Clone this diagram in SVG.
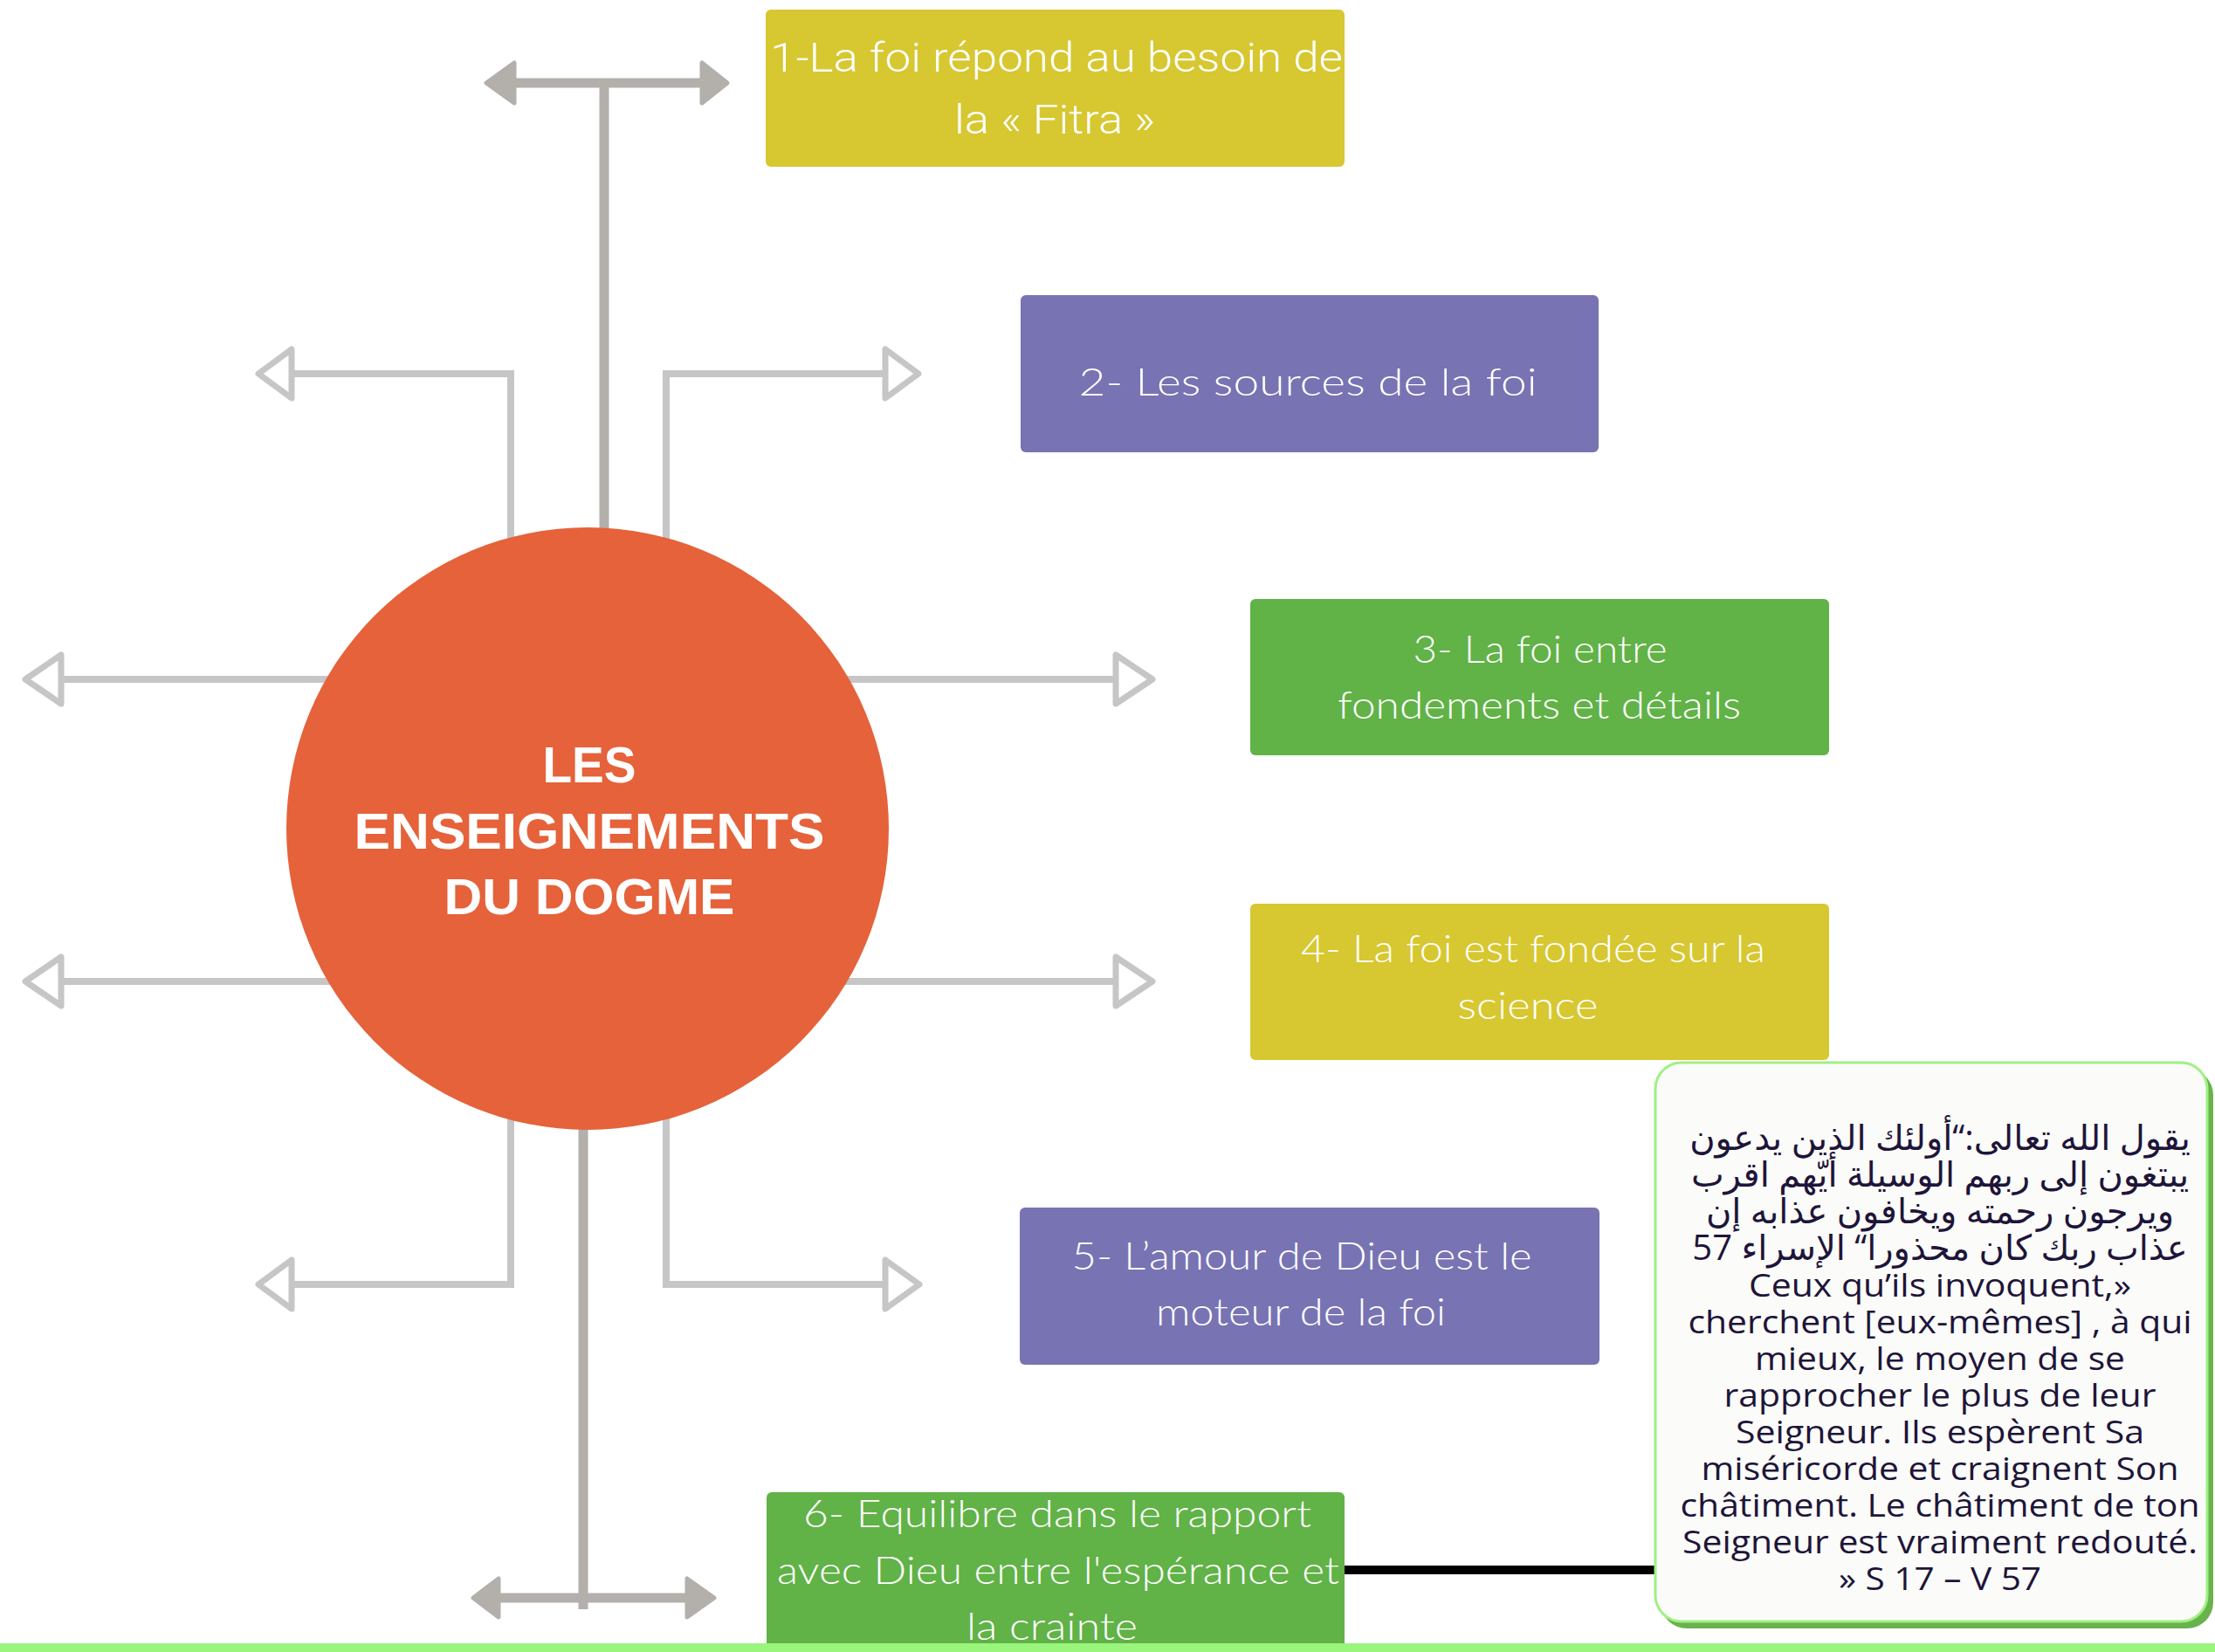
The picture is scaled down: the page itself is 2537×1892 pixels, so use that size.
<svg xmlns="http://www.w3.org/2000/svg" width="2537" height="1892" viewBox="0 0 2537 1892">
<style>
.thick{stroke:#b3afab;stroke-width:11;fill:none}
.thickhead{fill:#b3afab;stroke:#b3afab;stroke-width:5;stroke-linejoin:round}
.thin{stroke:#c6c6c6;stroke-width:8;fill:none}
.hollow{fill:#ffffff;stroke:#c6c6c6;stroke-width:7;stroke-linejoin:round}
.box-text{font-family:Lato,"Open Sans","Liberation Sans",sans-serif;font-weight:300;font-size:44px;fill:#ffffff;text-anchor:middle}
.box1-text{font-family:Roboto,"Liberation Sans",sans-serif;font-weight:300;font-size:46px;fill:#ffffff;text-anchor:middle}
.title{font-family:"Liberation Sans",Arial,sans-serif;font-weight:bold;font-size:57px;fill:#ffffff;text-anchor:middle}
.quote{font-family:"Open Sans","DejaVu Sans","Noto Sans",sans-serif;font-size:37px;fill:#1e1539;text-anchor:middle}
.ar{font-size:40px}
.yellow{fill:#d7c731}
.purple{fill:#7873b3}
.green{fill:#61b247}
</style>
<rect x="0" y="0" width="2537" height="1892" fill="#ffffff"/>
<g id="connectors">
  <line class="thick" x1="692" y1="95" x2="692" y2="949"/>
  <line class="thick" x1="585" y1="95" x2="808" y2="95"/>
  <polygon class="thickhead" points="557,95 589,72 589,118"/>
  <polygon class="thickhead" points="833,95 804,72 804,118"/>
  <line class="thick" x1="668" y1="949" x2="668" y2="1843"/>
  <line class="thick" x1="566" y1="1830" x2="792" y2="1830"/>
  <polygon class="thickhead" points="542,1830 571,1808 571,1852"/>
  <polygon class="thickhead" points="818,1830 787,1808 787,1852"/>
  <path class="thin" d="M585,949 V428 H334"/>
  <polygon class="hollow" points="296,428 334,400 334,456"/>
  <path class="thin" d="M763,949 V428 H1014"/>
  <polygon class="hollow" points="1052,428 1014,400 1014,456"/>
  <path class="thin" d="M70,778 H1278"/>
  <polygon class="hollow" points="29,778 70,750 70,806"/>
  <polygon class="hollow" points="1320,778 1278,750 1278,806"/>
  <path class="thin" d="M70,1124 H1278"/>
  <polygon class="hollow" points="29,1124 70,1096 70,1152"/>
  <polygon class="hollow" points="1320,1124 1278,1096 1278,1152"/>
  <path class="thin" d="M585,949 V1471 H334"/>
  <polygon class="hollow" points="296,1471 334,1443 334,1499"/>
  <path class="thin" d="M763,949 V1471 H1014"/>
  <polygon class="hollow" points="1053,1471 1014,1443 1014,1499"/>
  <line x1="1540" y1="1798" x2="1898" y2="1798" stroke="#000000" stroke-width="10"/>
</g>
<g id="center">
  <circle cx="673" cy="949" r="345" fill="#e5623a"/>
  <text class="title" x="675" y="896" textLength="107" lengthAdjust="spacingAndGlyphs">LES</text>
  <text class="title" x="675" y="972" textLength="539" lengthAdjust="spacingAndGlyphs">ENSEIGNEMENTS</text>
  <text class="title" x="675" y="1047" textLength="333" lengthAdjust="spacingAndGlyphs">DU DOGME</text>
</g>
<g id="n1">
  <rect class="yellow" x="877" y="11" width="663" height="180" rx="6"/>
  <text class="box1-text" x="1210" y="82" textLength="656" lengthAdjust="spacingAndGlyphs">1-La foi répond au besoin de</text>
  <text class="box1-text" x="1208" y="153" textLength="230" lengthAdjust="spacingAndGlyphs">la « Fitra »</text>
</g>
<g id="n2">
  <rect class="purple" x="1169" y="338" width="662" height="180" rx="6"/>
  <text class="box-text" x="1498" y="453" textLength="525" lengthAdjust="spacingAndGlyphs">2- Les sources de la foi</text>
</g>
<g id="n3">
  <rect class="green" x="1432" y="686" width="663" height="179" rx="6"/>
  <text class="box-text" x="1764" y="759" textLength="291" lengthAdjust="spacingAndGlyphs">3- La foi entre</text>
  <text class="box-text" x="1763" y="823" textLength="462" lengthAdjust="spacingAndGlyphs">fondements et détails</text>
</g>
<g id="n4">
  <rect class="yellow" x="1432" y="1035" width="663" height="179" rx="6"/>
  <text class="box-text" x="1756" y="1102" textLength="532" lengthAdjust="spacingAndGlyphs">4- La foi est fondée sur la</text>
  <text class="box-text" x="1750" y="1167" textLength="161" lengthAdjust="spacingAndGlyphs">science</text>
</g>
<g id="n5">
  <rect class="purple" x="1168" y="1383" width="664" height="180" rx="6"/>
  <text class="box-text" x="1491" y="1454" textLength="527" lengthAdjust="spacingAndGlyphs">5- L’amour de Dieu est le</text>
  <text class="box-text" x="1490" y="1518" textLength="332" lengthAdjust="spacingAndGlyphs">moteur de la foi</text>
</g>
<g id="n6">
  <rect class="green" x="878" y="1709" width="662" height="183" rx="6"/>
  <text class="box-text" x="1211" y="1749" textLength="582" lengthAdjust="spacingAndGlyphs">6- Equilibre dans le rapport</text>
  <text class="box-text" x="1212" y="1814" textLength="644" lengthAdjust="spacingAndGlyphs">avec Dieu entre l'espérance et</text>
  <text class="box-text" x="1205" y="1878" textLength="196" lengthAdjust="spacingAndGlyphs">la crainte</text>
</g>
<g id="quote">
  <rect x="1902" y="1224" width="633" height="641" rx="30" fill="#69b24c"/>
  <rect x="1896" y="1217" width="632" height="640" rx="30" fill="#fbfbf9" stroke="#a0f083" stroke-width="3"/>
  <text class="quote ar" direction="rtl" x="2222" y="1317">يقول الله تعالى:“أولئك الذين يدعون</text>
  <text class="quote ar" direction="rtl" x="2222" y="1359">يبتغون إلى ربهم الوسيلة أيّهم اقرب</text>
  <text class="quote ar" direction="rtl" x="2222" y="1401">ويرجون رحمته ويخافون عذابه إن</text>
  <text class="quote ar" direction="rtl" x="2222" y="1443">عذاب ربك كان محذورا“ الإسراء 57</text>
  <text class="quote" x="2222" y="1485" textLength="438" lengthAdjust="spacingAndGlyphs">Ceux qu’ils invoquent,»</text>
  <text class="quote" x="2222" y="1527" textLength="577" lengthAdjust="spacingAndGlyphs">cherchent [eux-mêmes] , à qui</text>
  <text class="quote" x="2222" y="1569" textLength="424" lengthAdjust="spacingAndGlyphs">mieux, le moyen de se</text>
  <text class="quote" x="2222" y="1611" textLength="495" lengthAdjust="spacingAndGlyphs">rapprocher le plus de leur</text>
  <text class="quote" x="2222" y="1653" textLength="468" lengthAdjust="spacingAndGlyphs">Seigneur. Ils espèrent Sa</text>
  <text class="quote" x="2222" y="1695" textLength="547" lengthAdjust="spacingAndGlyphs">miséricorde et craignent Son</text>
  <text class="quote" x="2222" y="1737" textLength="595" lengthAdjust="spacingAndGlyphs">châtiment. Le châtiment de ton</text>
  <text class="quote" x="2222" y="1779" textLength="590" lengthAdjust="spacingAndGlyphs">Seigneur est vraiment redouté.</text>
  <text class="quote" x="2222" y="1821" textLength="232" lengthAdjust="spacingAndGlyphs">» S 17 – V 57</text>
</g>
<rect x="0" y="1882" width="2537" height="10" fill="#99f57c"/>
</svg>
